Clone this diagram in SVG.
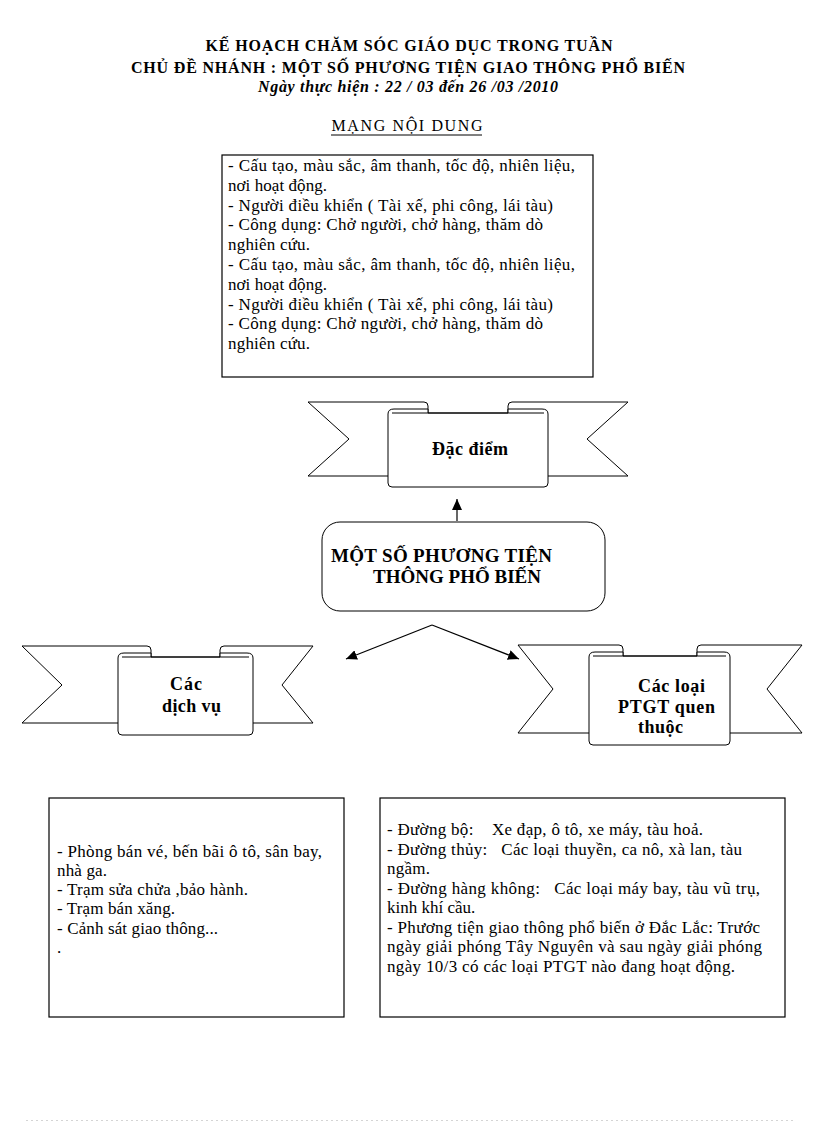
<svg xmlns="http://www.w3.org/2000/svg" width="816" height="1123" viewBox="0 0 816 1123">
<style>
  .t { font-family: "Liberation Serif", "Times New Roman", serif; fill: #000; white-space: pre; }
  .title { font-size: 16px; font-weight: bold; }
  .sub { font-size: 16px; font-weight: bold; font-style: italic; }
  .body { font-size: 17px; }
  .lbl { font-size: 18px; font-weight: bold; }
  .big { font-size: 19px; font-weight: bold; }
  .shape { fill: #fff; stroke: #000; stroke-width: 1; }
  .ln { fill: none; stroke: #000; stroke-width: 1; }
  .box { fill: #fff; stroke: #000; stroke-width: 1.2; }
  .conn { fill: none; stroke: #000; stroke-width: 1.2; }
</style>
<defs>
  <marker id="ah" markerUnits="userSpaceOnUse" markerWidth="12" markerHeight="10" viewBox="0 0 12 10" refX="11" refY="5" orient="auto">
    <path d="M0,0 L11,5 L0,10 Z" fill="#000"/>
  </marker>
</defs>
<rect width="816" height="1123" fill="#fff"/>

<g id="heading">
  <text class="t title" x="409" y="51" text-anchor="middle" textLength="407">KẾ HOẠCH CHĂM SÓC GIÁO DỤC TRONG TUẦN</text>
  <text class="t title" x="408" y="73" text-anchor="middle" textLength="554">CHỦ ĐỀ NHÁNH : MỘT SỐ PHƯƠNG TIỆN GIAO THÔNG PHỔ BIẾN</text>
  <text class="t sub" x="408" y="92" text-anchor="middle" textLength="300">Ngày thực hiện : 22 / 03 đến 26 /03 /2010</text>
  <text class="t title" x="407" y="131" text-anchor="middle" textLength="151" style="font-weight:normal">MẠNG NỘI DUNG</text>
  <line class="ln" x1="331" y1="135" x2="482" y2="135"/>
</g>

<g id="box-dac-diem-detail">
  <rect class="box" x="222" y="155" width="371" height="222"/>
  <text class="t body" x="228" y="171" textLength="347">- Cấu tạo, màu sắc, âm thanh, tốc độ, nhiên liệu,</text>
  <text class="t body" x="228" y="190.8" textLength="99">nơi hoạt động.</text>
  <text class="t body" x="228" y="210.6" textLength="325">- Người điều khiển ( Tài xế, phi công, lái tàu)</text>
  <text class="t body" x="228" y="230.4" textLength="315">- Công dụng: Chở người, chở hàng, thăm dò</text>
  <text class="t body" x="228" y="250.2" textLength="82">nghiên cứu.</text>
  <text class="t body" x="228" y="270" textLength="347">- Cấu tạo, màu sắc, âm thanh, tốc độ, nhiên liệu,</text>
  <text class="t body" x="228" y="289.8" textLength="99">nơi hoạt động.</text>
  <text class="t body" x="228" y="309.6" textLength="325">- Người điều khiển ( Tài xế, phi công, lái tàu)</text>
  <text class="t body" x="228" y="329.4" textLength="315">- Công dụng: Chở người, chở hàng, thăm dò</text>
  <text class="t body" x="228" y="349.2" textLength="82">nghiên cứu.</text>
</g>

<g id="ribbon-dac-diem">
  <path class="shape" d="M308,402 H424 Q428,402 428,406 V476 H308 L349,439 Z"/>
  <path class="shape" d="M628,402 H512 Q508,402 508,406 V476 H628 L587,439 Z"/>
  <path class="shape" d="M388,414 Q388,409 394,409 H428 V413 H508 V409 H542 Q548,409 548,414 V483 Q548,487 544,487 H392 Q388,487 388,483 Z"/>
  <path class="ln" d="M392,413 H544"/>
  <text class="t lbl" x="432" y="455" textLength="76">Đặc điểm</text>
</g>

<g id="center-node">
  <rect class="shape" x="322" y="522" width="283" height="89" rx="18" ry="18"/>
  <text class="t big" x="331" y="562" textLength="221">MỘT SỐ PHƯƠNG TIỆN</text>
  <text class="t big" x="373" y="583" textLength="168">THÔNG PHỔ BIẾN</text>
</g>

<g id="ribbon-dich-vu">
  <path class="shape" d="M22,646 H147 Q151,646 151,650 V723 H22 L62,685 Z"/>
  <path class="shape" d="M313,646 H224 Q220,646 220,650 V723 H313 L282,685 Z"/>
  <path class="shape" d="M118,658 Q118,653 124,653 H151 V657 H220 V653 H247 Q253,653 253,658 V731 Q253,735 249,735 H122 Q118,735 118,731 Z"/>
  <path class="ln" d="M122,657 H249"/>
  <text class="t lbl" x="170" y="690" textLength="32">Các</text>
  <text class="t lbl" x="162" y="712" textLength="59">dịch vụ</text>
</g>

<g id="ribbon-cac-loai">
  <path class="shape" d="M518,645 H619 Q623,645 623,649 V733 H518 L553,689 Z"/>
  <path class="shape" d="M802,645 H701 Q697,645 697,649 V733 H802 L767,689 Z"/>
  <path class="shape" d="M589,657 Q589,652 595,652 H623 V656 H697 V652 H724 Q730,652 730,657 V741 Q730,745 726,745 H593 Q589,745 589,741 Z"/>
  <path class="ln" d="M593,656 H726"/>
  <text class="t lbl" x="638" y="692" textLength="67">Các loại</text>
  <text class="t lbl" x="618" y="713" textLength="97">PTGT quen</text>
  <text class="t lbl" x="638" y="733" textLength="45">thuộc</text>
</g>

<g id="box-dich-vu-detail">
  <rect class="box" x="49" y="798" width="295" height="219"/>
  <text class="t body" x="57" y="857" textLength="265">- Phòng bán vé, bến bãi ô tô, sân bay,</text>
  <text class="t body" x="57" y="876" textLength="50">nhà ga.</text>
  <text class="t body" x="57" y="895" textLength="191">- Trạm sửa chửa ,bảo hành.</text>
  <text class="t body" x="57" y="914" textLength="118">- Trạm bán xăng.</text>
  <text class="t body" x="57" y="934" textLength="161">- Cảnh sát giao thông...</text>
  <text class="t body" x="57" y="953">.</text>
</g>

<g id="box-cac-loai-detail">
  <rect class="box" x="380" y="798" width="405" height="219"/>
  <text class="t body" x="387" y="835" textLength="316">- Đường bộ:    Xe đạp, ô tô, xe máy, tàu hoả.</text>
  <text class="t body" x="387" y="854.5" textLength="355">- Đường thủy:   Các loại thuyền, ca nô, xà lan, tàu</text>
  <text class="t body" x="387" y="874" textLength="43">ngầm.</text>
  <text class="t body" x="387" y="893.5" textLength="373">- Đường hàng không:   Các loại máy bay, tàu vũ trụ,</text>
  <text class="t body" x="387" y="913">kinh khí cầu.</text>
  <text class="t body" x="387" y="932.5" textLength="373">- Phương tiện giao thông phổ biến ở Đắc Lắc: Trước</text>
  <text class="t body" x="387" y="952" textLength="375">ngày giải phóng Tây Nguyên và sau ngày giải phóng</text>
  <text class="t body" x="387" y="971.5" textLength="348">ngày 10/3 có các loại PTGT nào đang hoạt động.</text>
</g>

<g id="connectors">
  <line class="conn" x1="457" y1="521" x2="457" y2="499" marker-end="url(#ah)"/>
  <line class="conn" x1="432" y1="625" x2="346" y2="659" marker-end="url(#ah)"/>
  <line class="conn" x1="432" y1="625" x2="519" y2="659" marker-end="url(#ah)"/>
</g>

<line x1="26" y1="1120.5" x2="794" y2="1120.5" stroke="#d4d4d4" stroke-width="1" stroke-dasharray="2 3"/>
</svg>
